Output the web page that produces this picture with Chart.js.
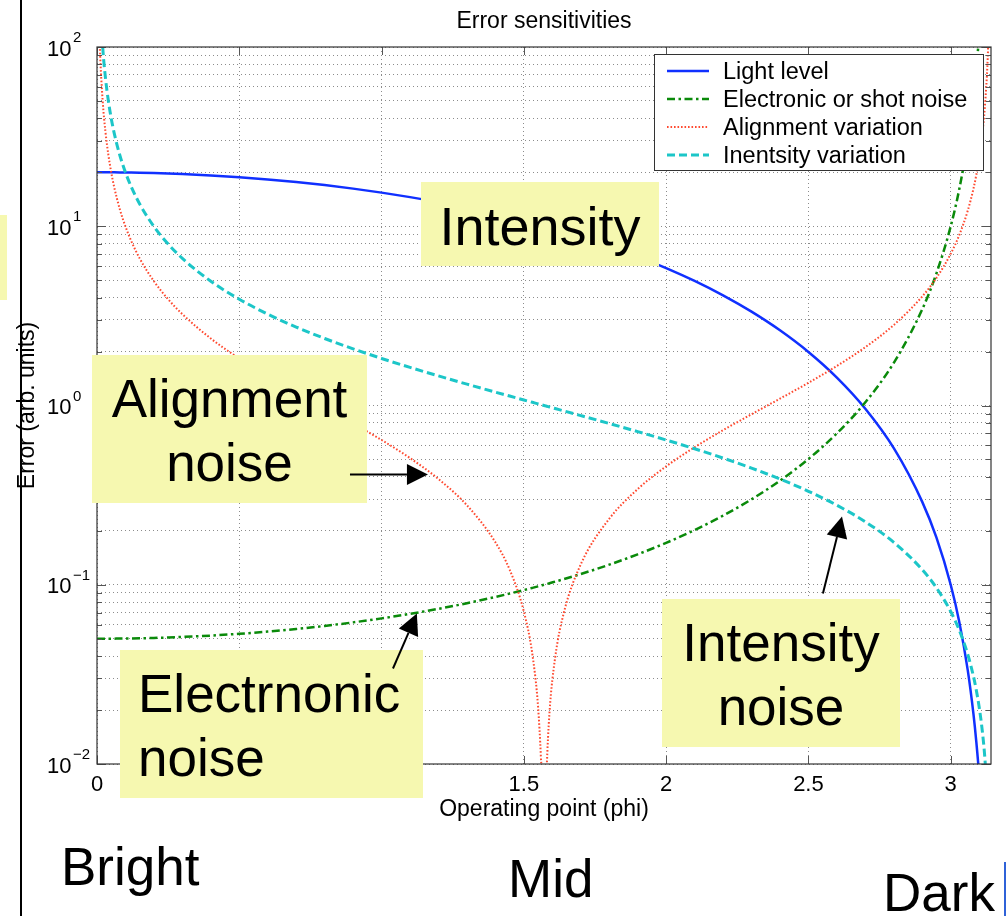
<!DOCTYPE html>
<html>
<head>
<meta charset="utf-8">
<title>Error sensitivities</title>
<script src="https://cdn.jsdelivr.net/npm/chart.js@4.4.1/dist/chart.umd.min.js"></script>
<style>
  html, body { margin: 0; padding: 0; background: #fff; }
  body { width: 1007px; height: 916px; position: relative; overflow: hidden;
         font-family: "Liberation Sans", Arial, Helvetica, sans-serif; }
  #wrap { position: absolute; left: 0; top: 0; width: 1007px; height: 916px; }
  canvas { display: block; }
  .note { position: absolute; background: #f6f8b0; color: #000; font-size: 53px; line-height: 64px;
          padding-top: 12px; box-sizing: border-box; text-align: center; white-space: nowrap; }
  .big { position: absolute; font-size: 53px; line-height: 64px; color: #000; white-space: nowrap; }
  #rule { position: absolute; left: 20px; top: 0; width: 2px; height: 916px; background: #000; }
  #sliver { position: absolute; left: 0; top: 215px; width: 7px; height: 85px; background: #f6f8b0; }
  #caret { position: absolute; left: 1004px; top: 862px; width: 2px; height: 54px; background: #2f62d8; }
  #arrows { position: absolute; left: 0; top: 0; }
</style>
</head>
<body>
<div id="wrap"><canvas id="chart" width="1007" height="916"></canvas></div>
<div id="sliver"></div>
<div id="rule"></div>
<div class="note" style="left:421px;top:182px;width:238px;height:84px;font-size:54px;">Intensity</div>
<div class="note" style="left:92px;top:355px;width:275px;height:148px;">Alignment<br>noise</div>
<div class="note" style="left:120px;top:650px;width:303px;height:148px;text-align:left;padding-left:18px;">Electrnonic<br>noise</div>
<div class="note" style="left:662px;top:599px;width:238px;height:148px;">Intensity<br>noise</div>
<div class="big" style="left:61px;top:835px;">Bright</div>
<div class="big" style="left:508px;top:847px;">Mid</div>
<div class="big" style="left:883px;top:861px;">Dark</div>
<div id="caret"></div>
<svg id="arrows" width="1007" height="916"></svg>

<script>
// Operating point samples (phi, radians)
const phi = [0, 0.005, 0.01, 0.02, 0.03, 0.04, 0.05, 0.06, 0.08, 0.1, 0.12, 0.15, 0.2, 0.25, 0.3,
  0.4, 0.5, 0.6, 0.7, 0.8, 0.9, 1.0, 1.1, 1.2, 1.3, 1.4, 1.45, 1.5, 1.53, 1.55, 1.56, 1.565,
  1.5708, 1.576, 1.58, 1.59, 1.61, 1.64, 1.7, 1.8, 1.9, 2.0, 2.1, 2.2, 2.3, 2.4, 2.5, 2.6, 2.7,
  2.8, 2.9, 2.95, 3.0, 3.03, 3.06, 3.08, 3.09, 3.1, 3.11, 3.12, 3.13, 3.135];

// Light level
const lightLevel = [20.00, 20.00, 20.00, 19.998, 19.996, 19.992, 19.988, 19.982, 19.968, 19.950,
  19.928, 19.888, 19.801, 19.689, 19.553, 19.211, 18.776, 18.253, 17.648, 16.967, 16.216, 15.403,
  14.536, 13.624, 12.675, 11.700, 11.205, 10.707, 10.408, 10.208, 10.108, 10.058, 10.000, 9.948,
  9.908, 9.808, 9.608, 9.309, 8.712, 7.728, 6.767, 5.839, 4.952, 4.115, 3.337, 2.626, 1.989,
  1.431, 0.959, 0.578, 0.290, 0.183, 0.100, 0.0622, 0.0333, 0.0190, 0.0133, 0.00865, 0.0050,
  null, null, null];

// Electronic or shot noise
const shotNoise = [0.0500, 0.0500, 0.0500, 0.05001, 0.05001, 0.05002, 0.05003, 0.05005, 0.05008,
  0.05013, 0.05018, 0.05028, 0.05050, 0.05079, 0.05114, 0.05205, 0.05326, 0.05479, 0.05666,
  0.05894, 0.06167, 0.06492, 0.06879, 0.07340, 0.07890, 0.08547, 0.08925, 0.09339, 0.09608,
  0.09796, 0.09893, 0.09942, 0.1000, 0.1005, 0.1009, 0.1020, 0.1041, 0.1074, 0.1148, 0.1294,
  0.1478, 0.1713, 0.2020, 0.2430, 0.2997, 0.3808, 0.5029, 0.6988, 1.042, 1.731, 3.443, 5.465,
  9.99, 16.08, 30.06, 52.7, 75.1, 115.6, null, null, null, null];

// Alignment variation
const alignVar = [null, 200.0, 100.0, 49.99, 33.32, 24.99, 19.98, 16.65, 12.47, 9.967, 8.293,
  6.617, 4.933, 3.916, 3.233, 2.365, 1.830, 1.462, 1.187, 0.9712, 0.7936, 0.6421, 0.5090, 0.3888,
  0.2776, 0.1725, 0.1214, 0.07091, 0.04082, 0.02080, 0.01080, 0.005796, 0.0001, 0.005204,
  0.009204, 0.01921, 0.03922, 0.06932, 0.1299, 0.2333, 0.3416, 0.4577, 0.5848, 0.7279, 0.8935,
  1.0917, 1.3386, 1.6622, 2.1154, 2.8127, 4.0583, 5.155, 7.015, 8.924, 12.23, 16.22, 19.37,
  24.03, 31.64, 46.29, 86.26, 151.7];

// Intensity variation
const intensityVar = [null, 400.0, 200.0, 100.0, 66.66, 49.99, 39.99, 33.32, 24.97, 19.98, 16.65,
  13.31, 9.967, 7.958, 6.617, 4.933, 3.916, 3.233, 2.740, 2.365, 2.070, 1.830, 1.631, 1.462,
  1.315, 1.187, 1.129, 1.073, 1.042, 1.021, 1.011, 1.006, 1.000, 0.9948, 0.9908, 0.9810, 0.9615,
  0.9331, 0.8785, 0.7936, 0.7151, 0.6421, 0.5736, 0.5090, 0.4475, 0.3888, 0.3323, 0.2776, 0.2245,
  0.1725, 0.1214, 0.09609, 0.07092, 0.05585, 0.04082, 0.03081, 0.02580, 0.02080, 0.01580,
  0.01080, 0.00580, 0.00330];

const seriesNames = ['Light level', 'Electronic or shot noise', 'Alignment variation', 'Inentsity variation'];

// Axis ticks
const xTicks = [0, 0.5, 1, 1.5, 2, 2.5, 3];
const xTickLabels = ['0', '0.5', '1', '1.5', '2', '2.5', '3'];
const yDecades = [0.01, 0.1, 1, 10, 100];
const yDecadeExp = ['\u22122', '\u22121', '0', '1', '2'];
const yMinorSteps = [2, 3, 4, 5, 6, 7, 8, 9];

// Arrow annotations in data coordinates: [phi, error]
const arrowNotes = [
  { from: [0.889, 0.412], to: [1.163, 0.412] },
  { from: [1.040, 0.0341], to: [1.124, 0.0691] },
  { from: [2.551, 0.0894], to: [2.618, 0.240] }
];

const FONT = '"Liberation Sans", Arial, Helvetica, sans-serif';
Chart.defaults.font.family = FONT;
Chart.defaults.color = '#000';

const yTickValues = [];
yDecades.forEach((d, i) => {
  yTickValues.push(d);
  if (i < yDecades.length - 1) yMinorSteps.forEach(m => yTickValues.push(+(d * m).toPrecision(3)));
});

const toPoints = arr => phi.map((p, i) => ({ x: p, y: arr[i] }));

const datasets = [
  { label: seriesNames[0], data: toPoints(lightLevel), borderColor: '#1030ff', borderWidth: 2.5,
    borderDash: [], order: 4 },
  { label: seriesNames[1], data: toPoints(shotNoise), borderColor: '#0a8a0a', borderWidth: 2.5,
    borderDash: [8, 3.5, 2.5, 3.5], order: 3 },
  { label: seriesNames[2], data: toPoints(alignVar), borderColor: '#ff4a30', borderWidth: 2,
    borderDash: [1.6, 1.9], order: 2 },
  { label: seriesNames[3], data: toPoints(intensityVar), borderColor: '#1cc6c8', borderWidth: 3,
    borderDash: [8, 4], order: 1 }
].map(d => Object.assign(d, { pointRadius: 0, fill: false, cubicInterpolationMode: 'monotone' }));

// Title, inward tick marks, frame, tick labels and legend in MATLAB style
const matlabAxes = {
  id: 'matlabAxes',
  afterDatasetsDraw(chart) {
    const { ctx, chartArea: a, scales: { x, y } } = chart;
    ctx.save();

    // inward tick marks
    ctx.strokeStyle = '#555';
    ctx.lineWidth = 1;
    ctx.setLineDash([]);
    ctx.beginPath();
    xTicks.forEach(v => {
      const px = Math.round(x.getPixelForValue(v)) + 0.5;
      ctx.moveTo(px, a.bottom); ctx.lineTo(px, a.bottom - 8);
      ctx.moveTo(px, a.top); ctx.lineTo(px, a.top + 8);
    });
    yTickValues.forEach(v => {
      const len = yDecades.includes(v) ? 9 : 5;
      const py = Math.round(y.getPixelForValue(v)) + 0.5;
      ctx.moveTo(a.left, py); ctx.lineTo(a.left + len, py);
      ctx.moveTo(a.right, py); ctx.lineTo(a.right - len, py);
    });
    ctx.stroke();

    // axes frame
    ctx.strokeStyle = '#333';
    ctx.lineWidth = 1.2;
    ctx.strokeRect(a.left, a.top, a.right - a.left, a.bottom - a.top);

    // x tick labels
    ctx.fillStyle = '#000';
    ctx.font = '22px ' + FONT;
    ctx.textAlign = 'center';
    ctx.textBaseline = 'alphabetic';
    xTicks.forEach((v, i) => ctx.fillText(xTickLabels[i], x.getPixelForValue(v), a.bottom + 27));

    // y decade labels: 10 with a raised exponent
    ctx.textAlign = 'left';
    yDecades.forEach((v, i) => {
      const py = y.getPixelForValue(v);
      ctx.font = '22px ' + FONT;
      ctx.fillText('10', 47, py + 8.5);
      const w = ctx.measureText('10').width;
      ctx.font = '15px ' + FONT;
      ctx.fillText(yDecadeExp[i], 47 + w + 1.5, py - 5);
    });

    // title
    ctx.font = '23px ' + FONT;
    ctx.textAlign = 'center';
    ctx.fillText('Error sensitivities', (a.left + a.right) / 2, 27.5);

    // legend
    const lx = 654.5, ly = 54.5, lw = 329, lh = 116;
    ctx.fillStyle = '#fff';
    ctx.fillRect(lx, ly, lw, lh);
    ctx.strokeStyle = '#333';
    ctx.lineWidth = 1;
    ctx.strokeRect(lx, ly, lw, lh);
    ctx.font = '23.5px ' + FONT;
    ctx.textAlign = 'left';
    chart.data.datasets.forEach((ds, i) => {
      const ry = 71 + i * 28;
      ctx.save();
      ctx.strokeStyle = ds.borderColor;
      ctx.lineWidth = ds.borderWidth;
      ctx.setLineDash(ds.borderDash);
      ctx.beginPath();
      ctx.moveTo(667, ry); ctx.lineTo(709, ry);
      ctx.stroke();
      ctx.restore();
      ctx.fillStyle = '#000';
      ctx.fillText(ds.label, 723, ry + 8.3);
    });
    ctx.restore();
  }
};

const chart = new Chart(document.getElementById('chart'), {
  type: 'line',
  data: { datasets },
  options: {
    responsive: false,
    animation: false,
    devicePixelRatio: 1,
    layout: { padding: { left: 0, top: 47, right: 16, bottom: 0 } },
    plugins: { legend: { display: false }, title: { display: false }, tooltip: { enabled: false } },
    scales: {
      x: {
        type: 'linear', min: 0, max: 3.1416,
        afterBuildTicks: s => { s.ticks = xTicks.map(v => ({ value: v })); },
        afterFit: s => { s.height = 152; },
        ticks: { display: false },
        grid: { color: '#8c8c8c', lineWidth: 1, drawTicks: false, borderDash: [1, 3] },
        border: { display: false, dash: [1, 3] },
        title: { display: true, text: 'Operating point (phi)', font: { size: 23 },
                 padding: { top: 0, bottom: 93 } }
      },
      y: {
        type: 'logarithmic', min: 0.01, max: 100,
        afterBuildTicks: s => { s.ticks = yTickValues.map(v => ({ value: v })); },
        afterFit: s => { s.width = 97; },
        ticks: { display: false },
        grid: { color: '#8c8c8c', lineWidth: 1, drawTicks: false, borderDash: [1, 3] },
        border: { display: false, dash: [1, 3] },
        title: { display: true, text: 'Error (arb. units)', font: { size: 23 },
                 padding: { top: 14, bottom: 0 } }
      }
    }
  },
  plugins: [matlabAxes]
});

// Arrows pointing at the curves, placed through the chart scales
(function drawArrows() {
  const sx = chart.scales.x, sy = chart.scales.y;
  const svg = document.getElementById('arrows');
  let out = '';
  arrowNotes.forEach(n => {
    const x1 = sx.getPixelForValue(n.from[0]), y1 = sy.getPixelForValue(n.from[1]);
    const x2 = sx.getPixelForValue(n.to[0]), y2 = sy.getPixelForValue(n.to[1]);
    const dx = x2 - x1, dy = y2 - y1, L = Math.hypot(dx, dy);
    const ux = dx / L, uy = dy / L, hl = 21, hw = 10.5;
    const bx = x2 - ux * hl, by = y2 - uy * hl, px = -uy, py = ux;
    out += `<line x1="${x1}" y1="${y1}" x2="${bx}" y2="${by}" stroke="#000" stroke-width="2"/>`;
    out += `<polygon points="${x2},${y2} ${bx + px * hw},${by + py * hw} ${bx - px * hw},${by - py * hw}" fill="#000"/>`;
  });
  svg.innerHTML = out;
})();
</script>
</body>
</html>
